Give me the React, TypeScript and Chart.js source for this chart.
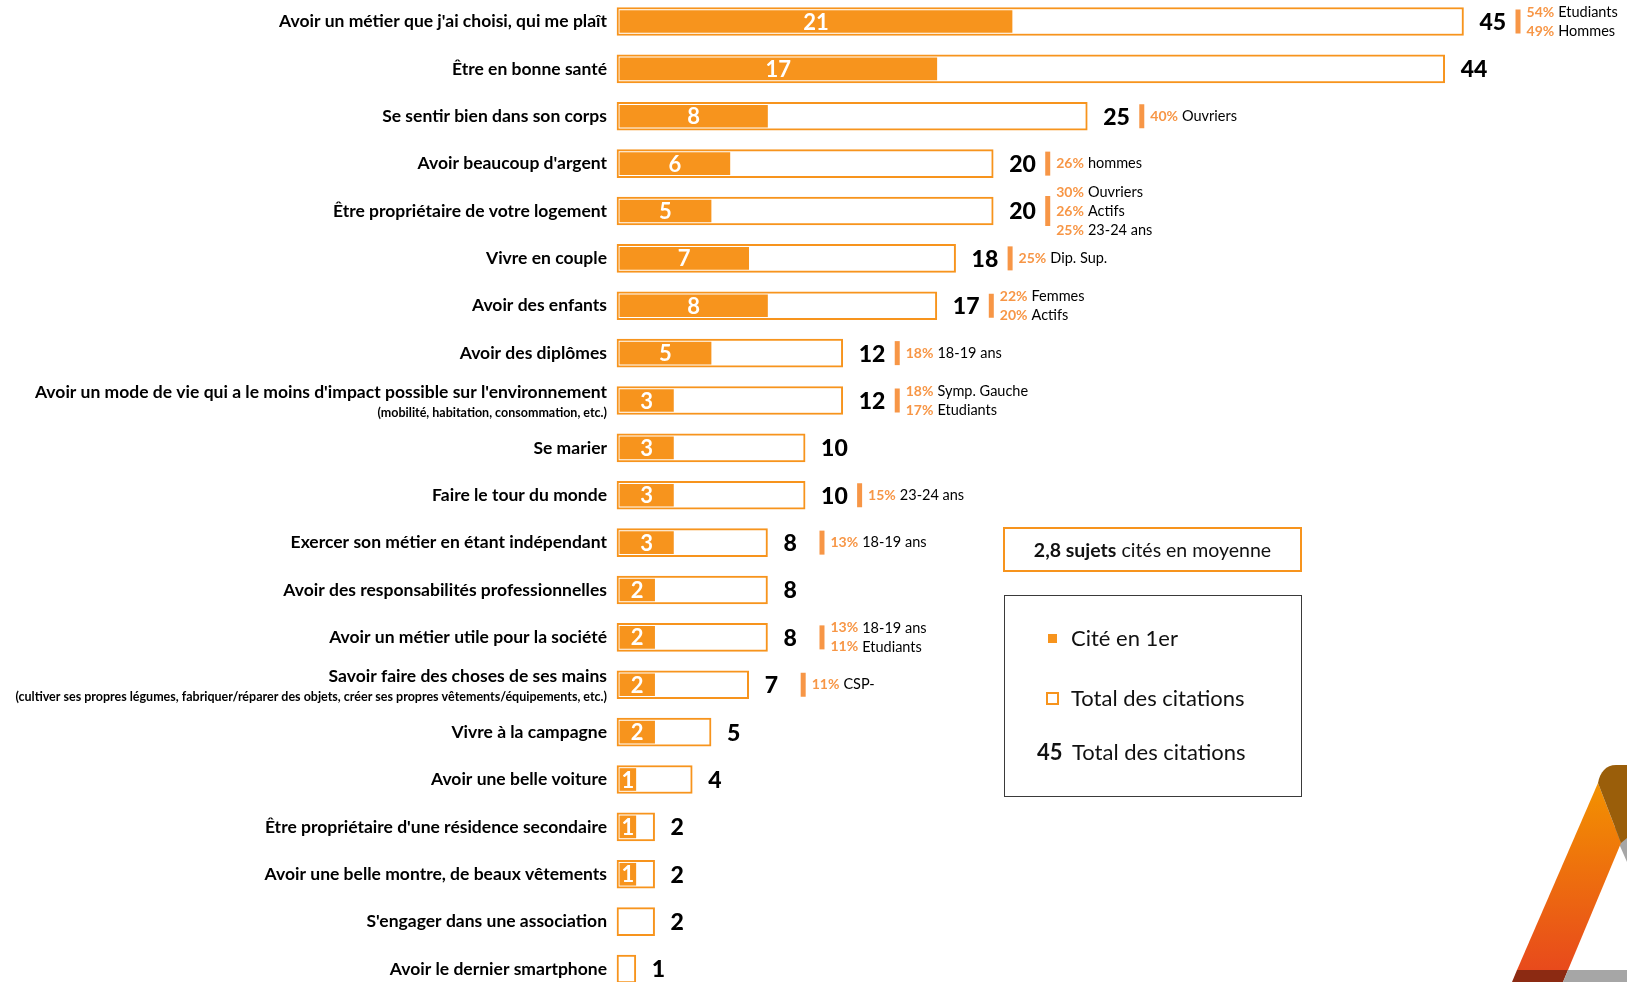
import React, { useEffect, useRef } from "react";
import { Chart, registerables } from "chart.js";

Chart.register(...registerables);

const categories: string[] = [
  "Avoir un métier que j'ai choisi, qui me plaît",
  "Être en bonne santé",
  "Se sentir bien dans son corps",
  "Avoir beaucoup d'argent",
  "Être propriétaire de votre logement",
  "Vivre en couple",
  "Avoir des enfants",
  "Avoir des diplômes",
  "Avoir un mode de vie qui a le moins d'impact possible sur l'environnement",
  "Se marier",
  "Faire le tour du monde",
  "Exercer son métier en étant indépendant",
  "Avoir des responsabilités professionnelles",
  "Avoir un métier utile pour la société",
  "Savoir faire des choses de ses mains",
  "Vivre à la campagne",
  "Avoir une belle voiture",
  "Être propriétaire d'une résidence secondaire",
  "Avoir une belle montre, de beaux vêtements",
  "S'engager dans une association",
  "Avoir le dernier smartphone",
];

const subLabels: string[] = [
  "", "", "", "", "", "", "", "",
  "(mobilité, habitation, consommation, etc.)",
  "", "", "", "", "",
  "(cultiver ses propres légumes, fabriquer/réparer des objets, créer ses propres vêtements/équipements, etc.)",
  "", "", "", "", "", "",
];

const firstCited: number[] = [21, 17, 8, 6, 5, 7, 8, 5, 3, 3, 3, 3, 2, 2, 2, 2, 1, 1, 1, 0, 0];
const totalCitations: number[] = [45, 44, 25, 20, 20, 18, 17, 12, 12, 10, 10, 8, 8, 8, 7, 5, 4, 2, 2, 2, 1];

const highlightPct: string[][] = [
  ["54%", "49%"], [], ["40%"], ["26%"], ["30%", "26%", "25%"], ["25%"], ["22%", "20%"],
  ["18%"], ["18%", "17%"], [], ["15%"], ["13%"], [], ["13%", "11%"], ["11%"],
  [], [], [], [], [], [],
];
const highlightGroup: string[][] = [
  ["Etudiants", "Hommes"], [], ["Ouvriers"], ["hommes"], ["Ouvriers", "Actifs", "23-24 ans"],
  ["Dip. Sup."], ["Femmes", "Actifs"], ["18-19 ans"], ["Symp. Gauche", "Etudiants"], [],
  ["23-24 ans"], ["18-19 ans"], [], ["18-19 ans", "Etudiants"], ["CSP-"],
  [], [], [], [], [], [],
];

const averageText = "2,8 sujets";
const averageRest = " cités en moyenne";
const legendFirst = "Cité en 1er";
const legendTotal = "Total des citations";
const legendNumber = "45";

const ORANGE = "#F7941D";
const LIGHT_ORANGE = "#F79646";
const FONT = "Lato, 'Open Sans', sans-serif";

const labelsPlugin = {
  id: "customLabels",
  afterDatasetsDraw(chart: any) {
    const ctx: CanvasRenderingContext2D = chart.ctx;
    const xs = chart.scales.x;
    const ys = chart.scales.y;
    const metaFirst = chart.getDatasetMeta(0);
    ctx.save();
    categories.forEach((cat, i) => {
      const cy = ys.getPixelForValue(i);
      const labelX = xs.getPixelForValue(0) - 10;
      ctx.fillStyle = "#000";
      ctx.textAlign = "right";
      ctx.textBaseline = "middle";
      ctx.font = `bold 17.5px ${FONT}`;
      if (subLabels[i]) {
        ctx.fillText(cat, labelX, cy - 8);
        ctx.font = `bold 12.5px ${FONT}`;
        ctx.fillText(subLabels[i], labelX, cy + 12);
      } else {
        ctx.fillText(cat, labelX, cy);
      }

      if (firstCited[i] > 0) {
        const bar = metaFirst.data[i];
        const cx = (bar.base + bar.x) / 2;
        ctx.font = `bold 22px ${FONT}`;
        ctx.fillStyle = "#fff";
        ctx.textAlign = "center";
        ctx.fillText(String(firstCited[i]), cx, cy + 1);
      }

      const xEnd = xs.getPixelForValue(totalCitations[i]);
      ctx.font = `900 23px ${FONT}`;
      ctx.fillStyle = "#000";
      ctx.textAlign = "left";
      ctx.fillText(String(totalCitations[i]), xEnd + 16, cy + 1);

      const pcts = highlightPct[i];
      if (pcts.length) {
        const bx = xEnd + 52;
        const bh = pcts.length > 2 ? 30 : 24;
        ctx.fillStyle = LIGHT_ORANGE;
        ctx.fillRect(bx, cy - bh / 2, 5, bh);
        pcts.forEach((p, k) => {
          const ly = cy + (k - (pcts.length - 1) / 2) * 19;
          ctx.font = `bold 14px ${FONT}`;
          ctx.fillStyle = LIGHT_ORANGE;
          ctx.textAlign = "left";
          ctx.fillText(p, bx + 11, ly);
          const w = ctx.measureText(p).width + 4;
          ctx.font = `14.5px ${FONT}`;
          ctx.fillStyle = "#000";
          ctx.fillText(highlightGroup[i][k], bx + 11 + w, ly);
        });
      }
    });
    ctx.restore();
  },
};

export default function App() {
  const canvasRef = useRef<HTMLCanvasElement | null>(null);

  useEffect(() => {
    document.body.style.margin = "0";
    const canvas = canvasRef.current;
    if (!canvas) return;
    const chart = new Chart(canvas, {
      type: "bar",
      data: {
        labels: categories,
        datasets: [
          {
            label: legendFirst,
            data: firstCited,
            backgroundColor: (c: any) => (c.raw > 0 ? ORANGE : "rgba(0,0,0,0)"),
            borderWidth: 0,
            barThickness: 22,
            base: 0.15,
            grouped: false,
            order: 0,
            clip: false,
          } as any,
          {
            label: legendTotal,
            data: totalCitations,
            backgroundColor: "#ffffff",
            borderColor: ORANGE,
            borderWidth: 2,
            borderSkipped: false,
            barThickness: 28,
            grouped: false,
            order: 1,
            clip: false,
          } as any,
        ],
      },
      options: {
        indexAxis: "y",
        animation: false,
        responsive: false,
        devicePixelRatio: 1,
        layout: { padding: { left: 617, right: 13, top: 21.5, bottom: 13 } },
        plugins: { legend: { display: false }, tooltip: { enabled: false } },
        scales: {
          x: { type: "linear", min: 0, max: 53, display: false },
          y: { type: "category", offset: false, display: false, grid: { display: false } },
        },
      } as any,
      plugins: [labelsPlugin],
    });
    return () => chart.destroy();
  }, []);

  return (
    <div style={{ position: "absolute", left: 0, top: 0, width: 1627, height: 982, overflow: "hidden", background: "#fff", fontFamily: FONT }}>
      <canvas ref={canvasRef} width={1627} height={982} style={{ display: "block", position: "absolute", left: 0, top: 0 }} />
      <div style={{ position: "absolute", left: 1003, top: 527, width: 299, height: 45, boxSizing: "border-box", border: `2px solid ${ORANGE}`, display: "flex", alignItems: "center", justifyContent: "center", fontSize: 19.5, color: "#111" }}>
        <span><b>{averageText}</b>{averageRest}</span>
      </div>
      <div style={{ position: "absolute", left: 1004, top: 595, width: 298, height: 202, boxSizing: "border-box", border: "1px solid #3a3a3a", fontSize: 22, color: "#111" }}>
        <div style={{ position: "absolute", left: 43, top: 38, width: 9, height: 9, background: ORANGE }} />
        <div style={{ position: "absolute", left: 66, top: 28, lineHeight: "28px", whiteSpace: "nowrap" }}>{legendFirst}</div>
        <div style={{ position: "absolute", left: 41, top: 96, width: 13, height: 13, boxSizing: "border-box", border: `2px solid ${ORANGE}` }} />
        <div style={{ position: "absolute", left: 66, top: 88, lineHeight: "28px", whiteSpace: "nowrap" }}>{legendTotal}</div>
        <div style={{ position: "absolute", left: 32, top: 142, lineHeight: "28px", fontWeight: "bold" }}>{legendNumber}</div>
        <div style={{ position: "absolute", left: 67, top: 142, lineHeight: "28px", whiteSpace: "nowrap" }}>{legendTotal}</div>
      </div>
      <svg width={1627} height={982} style={{ position: "absolute", left: 0, top: 0, pointerEvents: "none" }}>
        <defs>
          <linearGradient id="og" x1="0" y1="783" x2="0" y2="970" gradientUnits="userSpaceOnUse">
            <stop offset="0" stopColor="#F39200" />
            <stop offset="1" stopColor="#E84A1C" />
          </linearGradient>
        </defs>
        <polygon points="1613,830 1627,805 1627,862" fill="#A6A6A6" />
        <polygon points="1598,783 1621,843 1568,970 1517,970" fill="url(#og)" />
        <path d="M1598,783 C1600,772 1606,765 1616,765 L1627,765 L1627,838 L1621,843 Z" fill="#9A5E0A" />
        <polygon points="1517,970 1568,970 1563,982 1512,982" fill="#8C2A12" />
        <polygon points="1568,970 1627,970 1627,982 1563,982" fill="#A6A6A6" />
      </svg>
    </div>
  );
}
